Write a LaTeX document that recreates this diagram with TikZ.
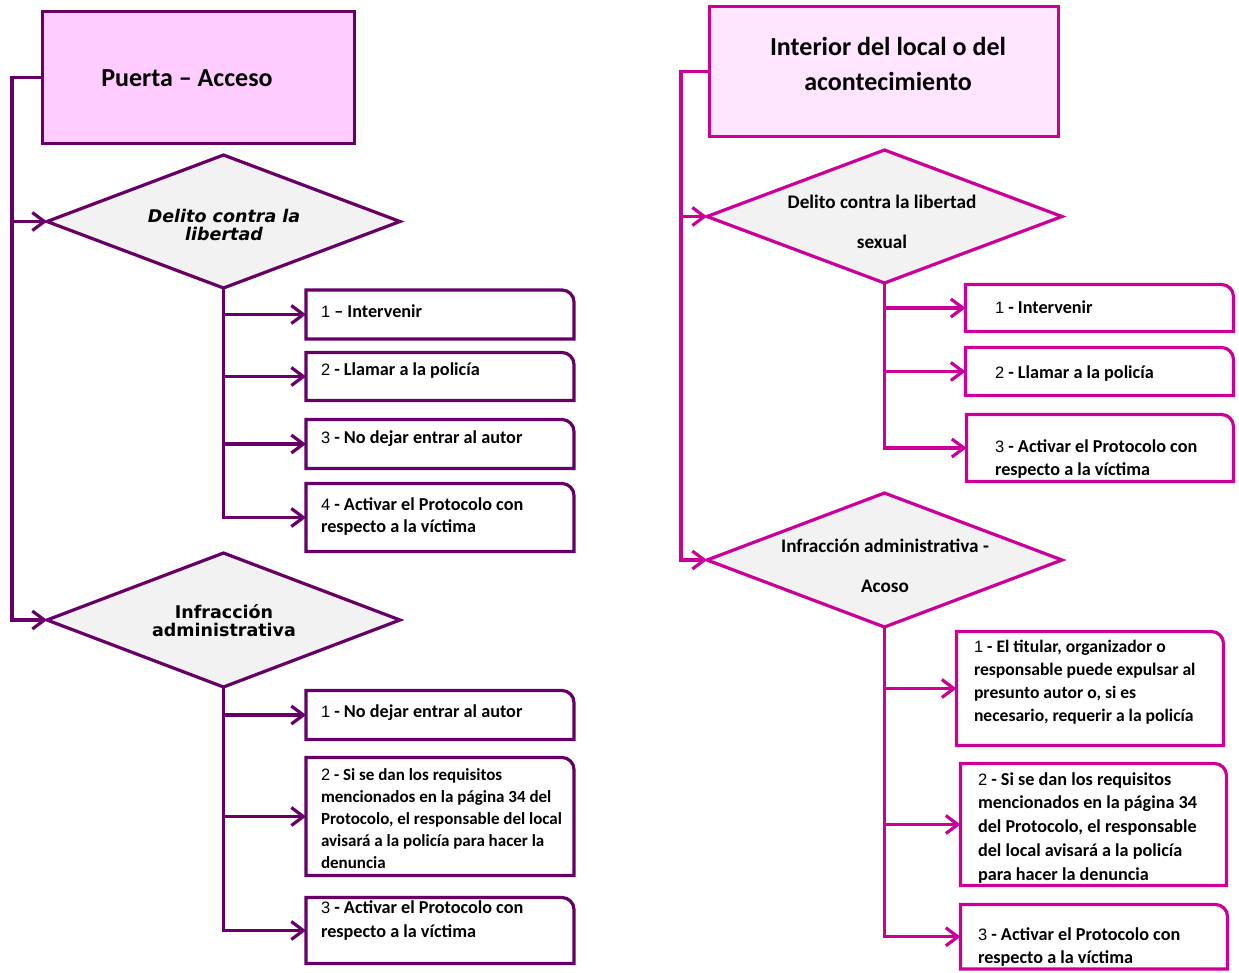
\documentclass[tikz,border=0pt]{standalone}
\usepackage{fontspec}
\setmainfont{Carlito}
\newfontfamily\arialf{Liberation Sans}
\newfontfamily\dejav{DejaVu Sans}
\usetikzlibrary{arrows.meta,shapes.geometric}
\definecolor{lp}{HTML}{660066}
\definecolor{rp}{HTML}{CC0099}
\definecolor{lfill}{HTML}{FFCCFF}
\definecolor{rfill}{HTML}{FFE5FF}
\definecolor{dfill}{HTML}{F2F2F2}
\newcommand\nmb[1]{{\arialf\mdseries\fontsize{16.5}{23}\selectfont #1}}
\newcommand\fl{\rule{0pt}{15pt}}
\newcommand\rframe[2]{\draw[ln,draw=#2,fill=white] (#1.south west) -- (#1.north west) -- ([xshift=-12pt]#1.north east) arc[start angle=90,end angle=0,radius=12pt] -- (#1.south east) -- cycle;}
\tikzset{
  ln/.style={line width=3.2pt},
  arr/.style={line width=3.2pt, -{Straight Barb[length=12pt,width=18pt]}},
  tbox/.style={rectangle, line width=3.2pt, inner sep=0pt, outer sep=0pt},
  abox/.style={rectangle, draw=none, inner sep=0pt, outer sep=0pt, anchor=north west},
  dia/.style={diamond, line width=3.2pt, fill=dfill, inner sep=0pt, outer sep=0pt},
  ttxt/.style={inner sep=0pt, outer sep=0pt, anchor=north, align=center, font=\bfseries\fontsize{26}{35}\selectfont},
  ltxt/.style={inner sep=0pt, outer sep=0pt, anchor=north, align=center, font=\dejav\bfseries\fontsize{17.5}{18.5}\selectfont},
  rtxt/.style={inner sep=0pt, outer sep=0pt, anchor=north, align=center, font=\bfseries\fontsize{19.2}{40}\selectfont},
  atxt/.style={inner sep=0pt, outer sep=0pt, anchor=north west, align=left, font=\bfseries\fontsize{18.2}{23}\selectfont},
}
\begin{document}
\begin{tikzpicture}[x=1pt,y=-1pt]
\path[use as bounding box, fill=white] (0,0) rectangle (1239,972);

% ---------------- left column ----------------
\node[tbox, draw=lp, fill=lfill, minimum width=312pt, minimum height=132pt] (LA) at (198.5,77.5) {};
\node[ttxt] (LAt) at (187,66) {\rule{0pt}{20pt}Puerta – Acceso};

\node[dia, draw=lp, minimum width=353pt, minimum height=133pt] (LD1) at (223.5,221.5) {};
\node[ltxt, font=\dejav\bfseries\itshape\fontsize{17.5}{18.5}\selectfont] (LD1t) at (224,207) {\rule{0pt}{15pt}Delito contra la\\libertad};

\node[dia, draw=lp, minimum width=353pt, minimum height=134pt] (LD2) at (223.5,620) {};
\node[ltxt] (LD2t) at (224,603) {\rule{0pt}{15pt}Infracción\\administrativa};

\node[abox, minimum width=268pt, minimum height=49pt] (LB1) at (306,290) {};
\node[abox, minimum width=268pt, minimum height=48pt] (LB2) at (306,352.5) {};
\node[abox, minimum width=268pt, minimum height=49pt] (LB3) at (306,419.5) {};
\node[abox, minimum width=268pt, minimum height=68pt] (LB4) at (306,483.5) {};
\node[abox, minimum width=268pt, minimum height=49pt] (LB5) at (306,690.5) {};
\node[abox, minimum width=268pt, minimum height=118pt] (LB6) at (306,757.5) {};
\node[abox, minimum width=268pt, minimum height=66pt] (LB7) at (306,897.5) {};

\coordinate (Ltop) at (12,77.5);
\draw[arr, color=lp] (LA.west) -- (Ltop) |- (LD2.west);
\draw[arr, color=lp] (Ltop |- LD1.west) -- (LD1.west);
\draw[arr, color=lp] (LD1.south) |- (LB4.west);
\foreach \b in {LB1,LB2,LB3} \draw[arr, color=lp] (LD1.south |- \b.west) -- (\b.west);
\draw[arr, color=lp] (LD2.south) |- (LB7.west);
\foreach \b in {LB5,LB6} \draw[arr, color=lp] (LD2.south |- \b.west) -- (\b.west);

\foreach \b in {LB1,LB2,LB3,LB4,LB5,LB6,LB7} {\rframe{\b}{lp}}

\node[atxt] (LB1t) at (321,302) {\fl\nmb{1} – Intervenir};
\node[atxt] (LB2t) at (321,360) {\fl\nmb{2} - Llamar a la policía};
\node[atxt] (LB3t) at (321,428) {\fl\nmb{3} - No dejar entrar al autor};
\node[atxt, font=\bfseries\fontsize{18.2}{22.5}\selectfont] (LB4t) at (321,495) {\fl\nmb{4} - Activar el Protocolo con\\respecto a la víctima};
\node[atxt] (LB5t) at (321,702) {\fl\nmb{1} - No dejar entrar al autor};
\node[atxt, font=\bfseries\fontsize{17}{22}\selectfont] (LB6t) at (321,765) {\fl\nmb{2} - Si se dan los requisitos\\mencionados en la página 34 del\\Protocolo, el responsable del local\\avisará a la policía para hacer la\\denuncia};
\node[atxt, font=\bfseries\fontsize{18.2}{24}\selectfont] (LB7t) at (321,898) {\fl\nmb{3} - Activar el Protocolo con\\respecto a la víctima};

% ---------------- right column ----------------
\node[tbox, draw=rp, fill=rfill, minimum width=349pt, minimum height=130pt] (RA) at (884,71.5) {};
\node[ttxt] (RAt) at (888,35) {\rule{0pt}{20pt}Interior del local o del\\acontecimiento};

\node[dia, draw=rp, minimum width=355pt, minimum height=133pt] (RD1) at (884.5,216.5) {};
\node[rtxt] (RD1t) at (882,193) {\rule{0pt}{15pt}Delito contra la libertad\\sexual};

\node[dia, draw=rp, minimum width=355pt, minimum height=134pt] (RD2) at (884.5,560) {};
\node[rtxt] (RD2t) at (885,537) {\rule{0pt}{15pt}Infracción administrativa -\\Acoso};

\node[abox, minimum width=268pt, minimum height=47pt] (RB1) at (965.5,284.5) {};
\node[abox, minimum width=268pt, minimum height=48pt] (RB2) at (965.5,347.5) {};
\node[abox, minimum width=267pt, minimum height=67pt] (RB3) at (966.5,414.5) {};
\node[abox, minimum width=267pt, minimum height=114pt] (RB4) at (956.5,631.5) {};
\node[abox, minimum width=266pt, minimum height=122pt] (RB5) at (960.5,763.5) {};
\node[abox, minimum width=267pt, minimum height=64.5pt] (RB6) at (960.5,904.5) {};

\coordinate (Rtop) at (681,71.5);
\draw[arr, color=rp] (RA.west) -- (Rtop) |- (RD2.west);
\draw[arr, color=rp] (Rtop |- RD1.west) -- (RD1.west);
\draw[arr, color=rp] (RD1.south) |- (RB3.west);
\foreach \b in {RB1,RB2} \draw[arr, color=rp] (RD1.south |- \b.west) -- (\b.west);
\draw[arr, color=rp] (RD2.south) |- (RB6.west);
\foreach \b in {RB4,RB5} \draw[arr, color=rp] (RD2.south |- \b.west) -- (\b.west);

\foreach \b in {RB1,RB2,RB3,RB4,RB5,RB6} {\rframe{\b}{rp}}

\node[atxt] (RB1t) at (995,298) {\fl\nmb{1} - Intervenir};
\node[atxt] (RB2t) at (995,363) {\fl\nmb{2} - Llamar a la policía};
\node[atxt] (RB3t) at (995,437) {\fl\nmb{3} - Activar el Protocolo con\\respecto a la víctima};
\node[atxt, font=\bfseries\fontsize{17.6}{23}\selectfont] (RB4t) at (974,637) {\fl\nmb{1} - El titular, organizador o\\responsable puede expulsar al\\presunto autor o, si es\\necesario, requerir a la policía};
\node[atxt, font=\bfseries\fontsize{18.2}{23.8}\selectfont] (RB5t) at (978,770) {\fl\nmb{2} - Si se dan los requisitos\\mencionados en la página 34\\del Protocolo, el responsable\\del local avisará a la policía\\para hacer la denuncia};
\node[atxt] (RB6t) at (978,925) {\fl\nmb{3} - Activar el Protocolo con\\respecto a la víctima};
\end{tikzpicture}
\end{document}
